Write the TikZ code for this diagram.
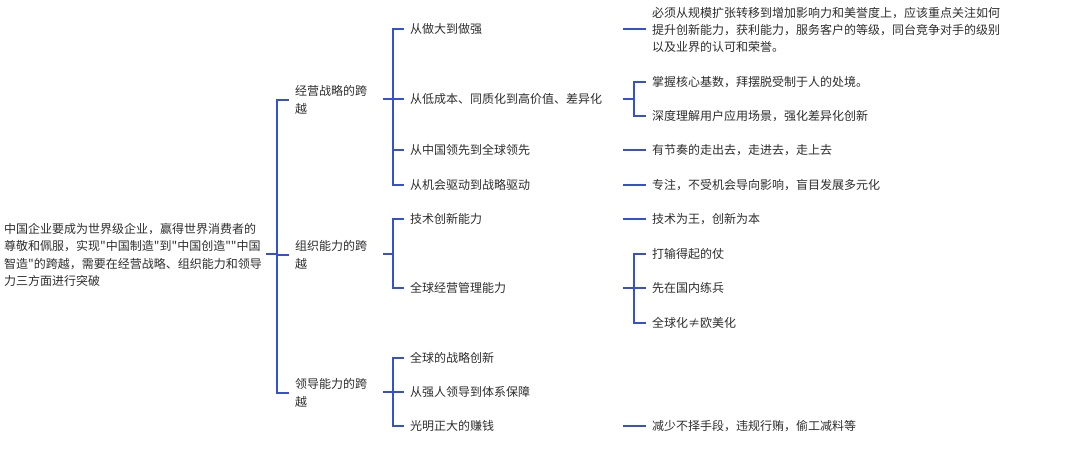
\documentclass[tikz,border=0pt]{standalone}
\usepackage{fontspec}
\setmainfont{Noto Sans CJK SC}[Ligatures=TeXOff]
\usepackage{tikz}
\pgfdeclarelayer{backlayer}
\pgfdeclarelayer{edgelayer}
\pgfdeclarelayer{nodelayer}
\pgfsetlayers{backlayer,edgelayer,nodelayer,main}
\definecolor{linkblue}{HTML}{3452CF}
\definecolor{inkgray}{HTML}{2E2E2E}
\tikzstyle{edge}=[draw=linkblue, line width=1.7pt]
\tikzstyle{topic}=[anchor=west, inner xsep=6pt, inner ysep=0pt, align=left, text=inkgray, font=\fontsize{12}{17.3}\selectfont]

\begin{document}
\begin{tikzpicture}[x=1pt, y=-1pt]
	\begin{pgfonlayer}{backlayer}
		\fill[white] (0,0) rectangle (1080,449);
	\end{pgfonlayer}
	\useasboundingbox (0,0) rectangle (1080,449);
				\begin{pgfonlayer}{nodelayer}
					\node [style=topic] (0) at (-2, 255) {中国企业要成为世界级企业，赢得世界消费者的\\尊敬和佩服，实现"中国制造"到"中国创造""中国\\智造"的跨越，需要在经营战略、组织能力和领导\\力三方面进行突破};
					\node [style=topic] (1) at (289, 100) {经营战略的跨\\越};
					\node [style=topic] (2) at (289, 255) {组织能力的跨\\越};
					\node [style=topic] (3) at (289, 393) {领导能力的跨\\越};
					\node [style=topic] (4) at (404, 29) {从做大到做强};
					\node [style=topic] (5) at (404, 99) {从低成本、同质化到高价值、差异化};
					\node [style=topic] (6) at (404, 150) {从中国领先到全球领先};
					\node [style=topic] (7) at (404, 185) {从机会驱动到战略驱动};
					\node [style=topic] (8) at (404, 219) {技术创新能力};
					\node [style=topic] (9) at (404, 288) {全球经营管理能力};
					\node [style=topic] (10) at (404, 358) {全球的战略创新};
					\node [style=topic] (11) at (404, 392) {从强人领导到体系保障};
					\node [style=topic] (12) at (404, 426) {光明正大的赚钱};
					\node [style=topic] (13) at (646, 30) {必须从规模扩张转移到增加影响力和美誉度上，应该重点关注如何\\提升创新能力，获利能力，服务客户的等级，同台竞争对手的级别\\以及业界的认可和荣誉。};
					\node [style=topic] (14) at (646, 82) {掌握核心基数，拜摆脱受制于人的处境。};
					\node [style=topic] (15) at (646, 116) {深度理解用户应用场景，强化差异化创新};
					\node [style=topic] (16) at (646, 150) {有节奏的走出去，走进去，走上去};
					\node [style=topic] (17) at (646, 185) {专注，不受机会导向影响，盲目发展多元化};
					\node [style=topic] (18) at (646, 219) {技术为王，创新为本};
					\node [style=topic] (19) at (646, 254) {打输得起的仗};
					\node [style=topic] (20) at (646, 288) {先在国内练兵};
					\node [style=topic] (21) at (646, 323) {全球化≠欧美化};
					\node [style=topic] (22) at (646, 426) {减少不择手段，违规行贿，偷工减料等};
				\end{pgfonlayer}
				\begin{pgfonlayer}{edgelayer}
					% root
					\coordinate (s0) at (266, 254);
					\coordinate (j0) at (277, 254);
					\draw [style=edge] (s0) to (j0);
					\draw [style=edge] (j0) |- (1.west);
					\draw [style=edge] (j0) |- (2.west);
					\draw [style=edge] (j0) |- (3.west);
					% second level
					\coordinate (s1) at (383, 99);
					\coordinate (j1) at (393, 99);
					\draw [style=edge] (s1) to (j1);
					\draw [style=edge] (j1) |- (4.west);
					\draw [style=edge] (j1) |- (5.west);
					\draw [style=edge] (j1) |- (6.west);
					\draw [style=edge] (j1) |- (7.west);
					\coordinate (s2) at (383, 254);
					\coordinate (j2) at (393, 254);
					\draw [style=edge] (s2) to (j2);
					\draw [style=edge] (j2) |- (8.west);
					\draw [style=edge] (j2) |- (9.west);
					\coordinate (s3) at (383, 392);
					\coordinate (j3) at (393, 392);
					\draw [style=edge] (s3) to (j3);
					\draw [style=edge] (j3) |- (10.west);
					\draw [style=edge] (j3) |- (11.west);
					\draw [style=edge] (j3) |- (12.west);
					% third level
					\coordinate (s4) at (623, 29);
					\draw [style=edge] (s4) to (13.west |- s4);
					\coordinate (s5) at (623, 99);
					\coordinate (j5) at (634, 99);
					\draw [style=edge] (s5) to (j5);
					\draw [style=edge] (j5) |- (14.west);
					\draw [style=edge] (j5) |- (15.west);
					\coordinate (s6) at (623, 150);
					\draw [style=edge] (s6) to (16.west);
					\coordinate (s7) at (623, 185);
					\draw [style=edge] (s7) to (17.west);
					\coordinate (s8) at (623, 219);
					\draw [style=edge] (s8) to (18.west);
					\coordinate (s9) at (623, 288);
					\coordinate (j9) at (634, 288);
					\draw [style=edge] (s9) to (j9);
					\draw [style=edge] (j9) |- (19.west);
					\draw [style=edge] (j9) |- (20.west);
					\draw [style=edge] (j9) |- (21.west);
					\coordinate (s12) at (623, 426);
					\draw [style=edge] (s12) to (22.west);
				\end{pgfonlayer}
			\end{tikzpicture}
\end{document}
